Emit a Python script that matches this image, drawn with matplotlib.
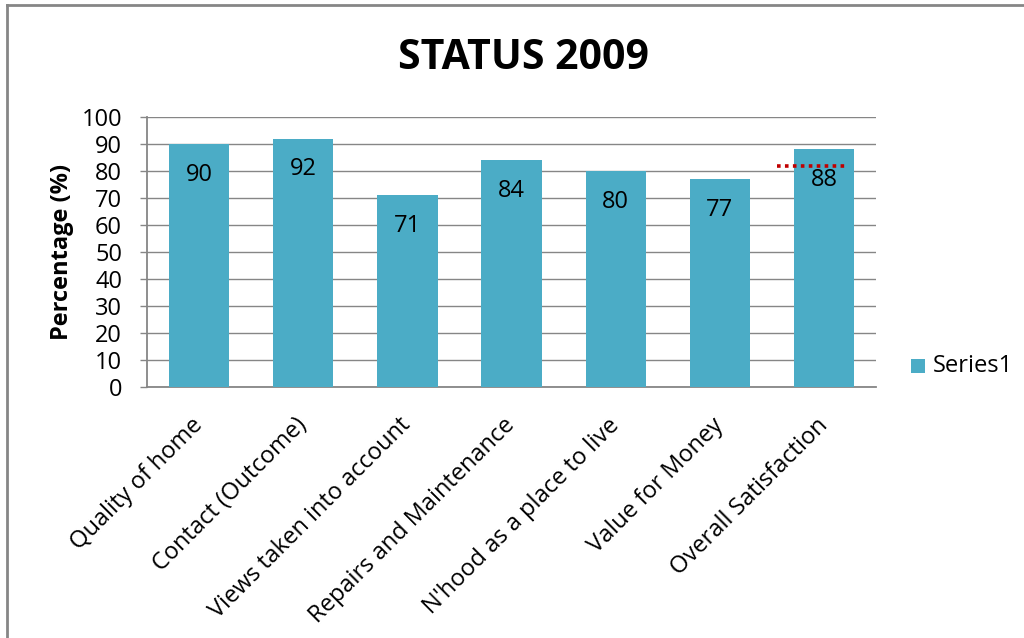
import numpy as np
import matplotlib.pyplot as plt
from matplotlib.patches import Rectangle

# chart values
categories = ['Quality of home', 'Contact (Outcome)', 'Views taken into account',
              'Repairs and Maintenance', "N'hood as a place to live",
              'Value for Money', 'Overall Satisfaction']
values = [90, 92, 71, 84, 80, 77, 88]
target_overall = 82
yticks = list(range(0, 101, 10))

plt.rcParams['font.family'] = ['Open Sans', 'DejaVu Sans']

barColor = '#4BACC6'
axisGrey = '#868686'
fs = 17

fig = plt.figure(figsize=(10.24, 6.38), dpi=100)
ax = fig.add_axes([0.1436, 0.3934, 0.712, 0.4232])

x = np.arange(len(categories))
ax.bar(x, values, width=0.58, color=barColor, zorder=3)

# labels inside the bars, a bit below the top
for xi, v in zip(x, values):
    ax.annotate(str(v), (xi, v), xytext=(0, -22), textcoords='offset points',
                ha='center', va='center', fontsize=fs, color='black', zorder=5)

# dotted target marker on the last bar
ax.plot([x[-1] - 0.45, x[-1] + 0.2], [target_overall, target_overall],
        color='#C00000', linestyle=(0, (1, 1.2)), linewidth=2.6, zorder=4)

ax.set_xlim(-0.5, len(categories) - 0.5)
ax.set_ylim(0, 100)
ax.set_yticks(yticks)
ax.tick_params(axis='y', labelsize=fs, length=5, color=axisGrey, width=1, pad=13)
ax.tick_params(axis='x', length=0, pad=25)
ax.set_xticks(x)
ax.set_xticklabels(categories, rotation=45, ha='right', va='center',
                   rotation_mode='anchor', fontsize=fs)
ax.grid(axis='y', color=axisGrey, linewidth=1, zorder=0)
for s in ['top', 'right']:
    ax.spines[s].set_visible(False)
for s in ['left', 'bottom']:
    ax.spines[s].set_color(axisGrey)
    ax.spines[s].set_linewidth(1.3)

ax.set_ylabel('Percentage (%)', fontsize=fs, fontweight='bold', labelpad=5)
fig.text(0.511, 0.908, 'STATUS 2009', ha='center', va='center',
         fontsize=29.5, fontweight='bold')

# legend at the right
fig.patches.append(Rectangle((0.8895, 0.416), 0.0137, 0.021, transform=fig.transFigure,
                             facecolor=barColor, edgecolor='none'))
fig.text(0.911, 0.426, 'Series1', ha='left', va='center', fontsize=fs)

# outer chart border (cut off at right and bottom)
fig.add_artist(plt.Line2D([0.0068, 0.0068], [0.0, 0.992], color=axisGrey,
                          linewidth=2, transform=fig.transFigure))
fig.add_artist(plt.Line2D([0.0068, 1.0], [0.992, 0.992], color=axisGrey,
                          linewidth=2, transform=fig.transFigure))

fig.savefig('out.png', dpi=100)
